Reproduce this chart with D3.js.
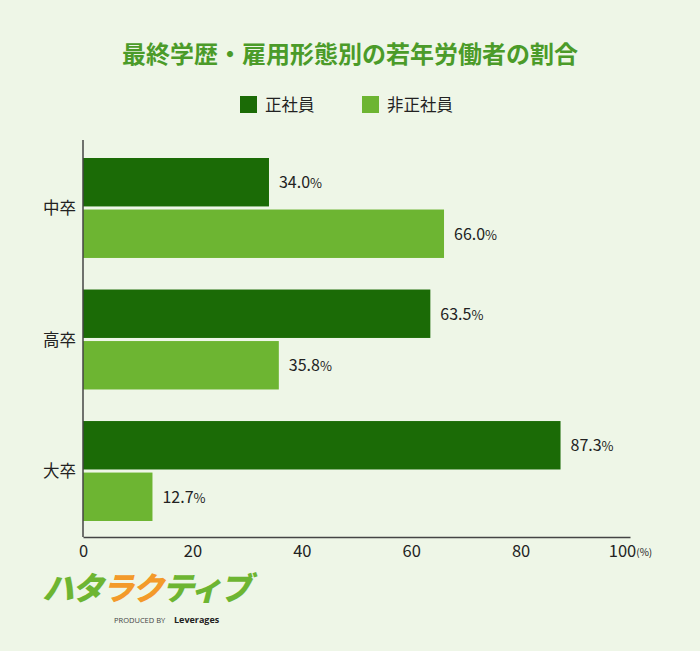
<!DOCTYPE html><html><head><meta charset="utf-8"><script src="https://cdn.jsdelivr.net/npm/d3@7"></script>
<style>body{margin:0;background:#eef6e7}</style></head><body><svg id="c" width="700" height="651"></svg>
<script>
const categories=["中卒","高卒","大卒"];
const seriesNames=["正社員","非正社員"];
const seiValues=[34.0,63.5,87.3];
const hiseiValues=[66.0,35.8,12.7];
const xTicks=[0,20,40,60,80,100];
const colors=["#1b6b06","#6db532"];
const svg=d3.select("#c");
const F="'Noto Sans CJK JP','Noto Sans',sans-serif";
svg.append("rect").attr("width",700).attr("height",651).attr("fill","#eef6e7");
svg.append("text").attr("x",350).attr("y",63).attr("text-anchor","middle").attr("font-family",F).attr("font-weight","bold").attr("font-size",24).attr("fill","#4b9b29").text("最終学歴・雇用形態別の若年労働者の割合");
const lg=[[240,seriesNames[0]],[362,seriesNames[1]]];
lg.forEach((d,i)=>{svg.append("rect").attr("x",d[0]).attr("y",96).attr("width",17).attr("height",17).attr("fill",colors[i]);
svg.append("text").attr("x",d[0]+25).attr("y",111).attr("font-family",F).attr("font-size",16.5).attr("fill","#222").text(d[1]);});
const x=d3.scaleLinear().domain([0,100]).range([83,630]);
const y=d3.scaleBand().domain(categories).range([158,521]).paddingInner(0.24).paddingOuter(0);
const inner=d3.scaleBand().domain([0,1]).range([0,y.bandwidth()]).paddingInner(0.06);
const data=[seiValues,hiseiValues];
categories.forEach((c,ci)=>{data.forEach((s,si)=>{
 const yy=y(c)+inner(si);
 svg.append("rect").attr("x",x(0)).attr("y",yy).attr("width",x(s[ci])-x(0)).attr("height",inner.bandwidth()).attr("fill",colors[si]);
 svg.append("text").attr("x",x(s[ci])+10).attr("y",yy+inner.bandwidth()/2+6).attr("font-family",F).attr("font-size",16).attr("fill","#222").text(s[ci].toFixed(1)).append("tspan").attr("font-size",13).text("%");
});
 svg.append("text").attr("x",76).attr("y",y(c)+y.bandwidth()/2+6).attr("text-anchor","end").attr("font-family",F).attr("font-size",16.5).attr("fill","#222").text(c);
});
const ax=svg.append("g").attr("transform","translate(0,537)").call(d3.axisBottom(x).tickValues(xTicks).tickSize(0).tickPadding(8).tickFormat(d=>d));
ax.select(".domain").attr("stroke","#444").attr("stroke-width",1.5);
ax.selectAll("text").attr("font-family",F).attr("font-size",16.5).attr("fill","#222");
ax.selectAll(".tick").filter(d=>d===100).select("text").append("tspan").attr("font-size",10).attr("dy",-1).text("(%)");
svg.append("line").attr("x1",83).attr("x2",83).attr("y1",140).attr("y2",537).attr("stroke","#444").attr("stroke-width",1.5);
// logo
const lo=svg.append("text").attr("x",42).attr("y",600).attr("font-family",F).attr("font-weight","900").attr("font-size",32).attr("font-style","italic").attr("letter-spacing",-2);
[["ハタ","#6db532"],["ラク","#f39a2a"],["ティブ","#6db532"]].forEach(d=>lo.append("tspan").attr("fill",d[1]).text(d[0]));
svg.append("text").attr("x",114).attr("y",623).attr("font-family","'Open Sans',sans-serif").attr("font-size",7.5).attr("fill","#444").text("PRODUCED BY");
svg.append("text").attr("x",174).attr("y",623).attr("font-family","'Open Sans',sans-serif").attr("font-weight","bold").attr("font-size",9).attr("fill","#222").text("Leverages");
</script></body></html>
